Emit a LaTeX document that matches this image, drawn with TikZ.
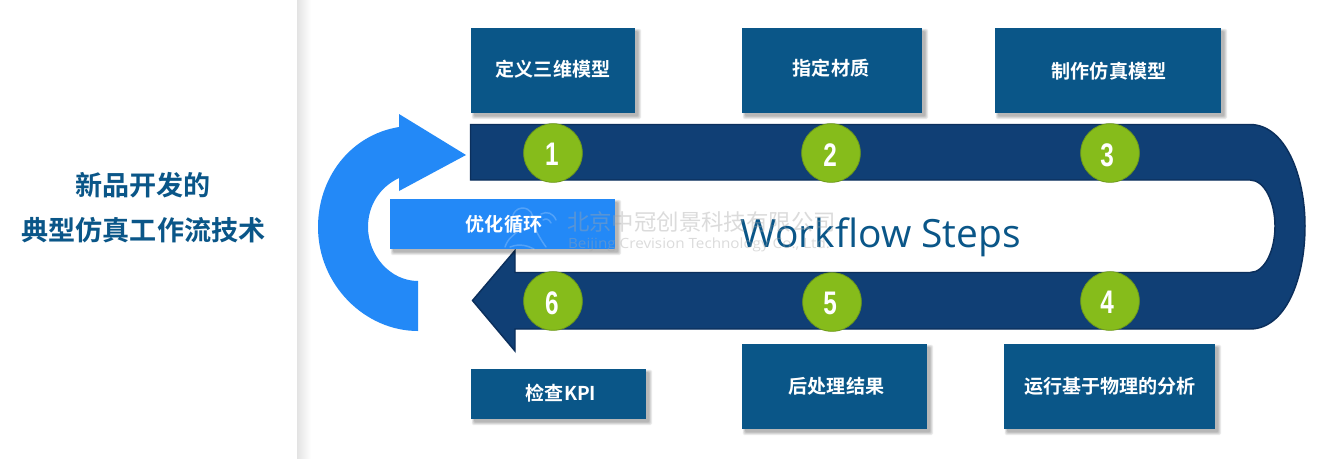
\documentclass[tikz,border=0pt]{standalone}
\usepackage{graphicx}
\usepackage{fontspec}
\newfontfamily\cjk{Noto Sans CJK SC}[BoldFont={Noto Sans CJK SC Bold}]
\newfontfamily\numf{Liberation Sans}
\newfontfamily\wf{Open Sans}
\definecolor{boxc}{HTML}{0A5688}
\definecolor{bandc}{HTML}{103F75}
\definecolor{bandb}{HTML}{0B2F5C}
\definecolor{loopc}{HTML}{2389F7}
\definecolor{greenc}{HTML}{86BC1B}
\definecolor{greenb}{HTML}{6E9A1A}
\newcommand{\softshadow}[4]{%
  \foreach \d in {0,1,2,3}{
    \fill[black,opacity=.08,rounded corners=1pt] (#1+2+\d*0.8-1.2,#2+2+\d*0.8-1.2) rectangle (#3+6-\d*0.9,#4+6-\d*0.9);
  }}
\tikzset{
  x=0.75pt,y=-0.75pt,
  labeltxt/.style={text=white,font=\cjk\bfseries\fontsize{14.3}{16}\selectfont,inner sep=0},
  badge/.style={circle,fill=greenc,draw=greenb,line width=0.6pt,minimum width=44pt,inner sep=0},
  numtxt/.style={font=\numf\bfseries\fontsize{24}{26}\selectfont,text=white,inner sep=0},
  titletxt/.style={font=\cjk\bfseries\fontsize{20.3}{24}\selectfont,text=boxc,inner sep=0},
  wm/.style={text=black!35,opacity=.4,inner sep=0},
  wmlogo/.style={draw=white,opacity=.22,line width=1.1pt,line cap=round},
}
% name, x1, y1, x2, y2, label x, label y, text
\newcommand{\stepnode}[8]{%
  \softshadow{#2}{#3}{#4}{#5}
  \fill[boxc] (#2,#3) rectangle (#4,#5);
  \node[labeltxt] (#1) at (#6,#7) {#8};
}
\begin{document}
\begin{tikzpicture}
\useasboundingbox (0,0) rectangle (1337,458);
\fill[white] (0,0) rectangle (1337,458);
\shade[left color=black!11,right color=white] (297,0) rectangle (311,458);
% band
\draw[fill=bandc,draw=bandb,line width=1.1pt,line join=miter]
  (470.5,124.5) -- (1250,124.5) .. controls (1285,124.5) and (1305,175) .. (1305,226)
  .. controls (1305,280) and (1285,329) .. (1250,329) -- (515,329) -- (515,351) -- (472.5,300.5) -- (515,250.5) -- (515,272.5)
  -- (1250,272.5) .. controls (1265,272.5) and (1275,250) .. (1275,226)
  .. controls (1275,203) and (1265,180) .. (1250,180) -- (470.5,180) -- cycle;
% loop arrow
\fill[loopc] (466,155) -- (399,114) -- (399,127)
  .. controls (350,135) and (318,178) .. (318,227)
  .. controls (318,285) and (365,331) .. (418,331)
  -- (418,281)
  .. controls (390,281) and (368,255) .. (368,227)
  .. controls (368,205) and (380,187) .. (399,178)
  -- (399,191) -- cycle;
% boxes
\stepnode{s1}{471}{28}{635}{113}{553}{69.5}{定义三维模型}
\stepnode{s2}{742}{28}{922}{113}{831}{68}{指定材质}
\stepnode{s3}{995}{28}{1221}{113}{1109}{71}{制作仿真模型}
\stepnode{s4}{1004}{344}{1215}{429}{1110}{386}{运行基于物理的分析}
\stepnode{s5}{742}{344}{927}{429}{836.5}{386}{后处理结果}
\stepnode{s6}{471}{369}{646}{419}{561}{393}{检查KPI}
\softshadow{390}{199}{615}{249}
\fill[loopc] (390,199) rectangle (615,249);
\node[labeltxt] (loop) at (504,224) {优化循环};
% badges
\foreach \n/\t/\px/\py/\nx/\ny in {b1/1/553/153/552/154,b2/2/831/153/830/155,b3/3/1110/153/1107/155,b4/4/1110/301/1107/302,b5/5/832/302/830/303,b6/6/553/301/552/303}{
  \node[badge] (\n) at (\px,\py) {};
  \node[numtxt] at (\nx,\ny) {\scalebox{.76}[1.02]{\t}};
}
% titles
\node[titletxt] (t1) at (143,185) {新品开发的};
\node[titletxt] (t2) at (143.5,230.5) {典型仿真工作流技术};
\node[inner sep=0,text=boxc,font=\wf\fontsize{29.2}{32}\selectfont] (wf) at (880.5,237.5) {Workflow Steps};
% watermark logo
\draw[wmlogo] (505,247) .. controls (508,238) and (514,235) .. (517,232) .. controls (509,224) and (511,209) .. (522,208)
  .. controls (530,208) and (534,214) .. (533,222) .. controls (536,232) and (541,240) .. (546,247);
\draw[wmlogo] (510,247) .. controls (520,243) and (528,246) .. (534,249);
\draw[wmlogo] (541,214) .. controls (547,211) and (553,213) .. (556,220);
\draw[wmlogo] (543,220) .. controls (546,218) and (549,219) .. (551,223);
% watermark
\node[wm,font=\cjk\fontsize{16.8}{18}\selectfont] (w1) at (701.5,222) {北京中冠创景科技有限公司};
\node[wm,font=\wf\fontsize{9.6}{12}\selectfont] (w2) at (699,245) {\scalebox{1.19}[1.1]{Beijing Crevision Technology Co., Ltd.}};
\end{tikzpicture}
\end{document}
